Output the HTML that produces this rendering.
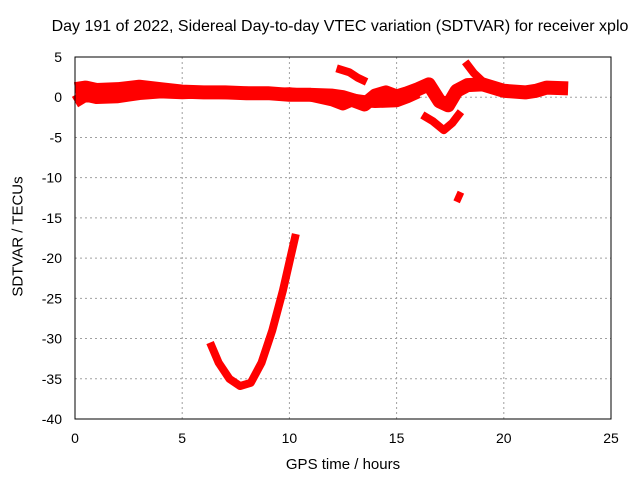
<!DOCTYPE html>
<html><head><meta charset="utf-8"><style>
body{margin:0;background:#fff}
svg{display:block;font-family:"Liberation Sans",sans-serif}
</style></head><body>
<svg id="c" width="640" height="480"></svg>
<script>
const xTicks=[0,5,10,15,20,25];
const yTicks=[5,0,-5,-10,-15,-20,-25,-30,-35,-40];
const bandUpper=[[0,1],[0.5,1.2],[1,0.9],[2,1],[3,1.3],[4,1],[5,0.7],[6,0.6],[7,0.6],[8,0.5],[9,0.5],[10,0.3],[11,0.3],[12,0.2],[12.5,0],[13,-0.4],[13.5,-0.9],[14,0.2],[14.5,0.6],[15,0.1],[15.5,0.5],[16,1],[16.5,1.6],[17,-0.5],[17.4,-1],[17.8,0.8],[18.3,1.5],[19,1.6],[20,0.8],[21,0.6],[21.5,0.8],[22,1.2],[23,1.1]];
const bandLower=[[0,-0.6],[0.5,0.2],[1,-0.1],[2,0],[3,0.4],[4,0.6],[5,0.5],[6,0.6],[7,0.5],[8,0.6],[9,0.4],[10,0.5],[11,0.2],[12,-0.4],[12.5,-0.9],[13,-0.3],[13.5,-0.5],[14,-0.6],[15,-0.5],[15.5,0],[16,0.6]];
const segHigh=[[12.2,3.6],[12.8,3.1],[13.2,2.4],[13.6,1.9]];
const segDip=[[16.2,-2.2],[16.7,-3],[17.2,-4.1],[17.6,-3.2],[18,-1.8]];
const segSpike=[[18.2,4.4],[18.6,3],[19,2],[19.4,1.2]];
const segDeep=[[17.8,-13],[18,-11.8]];
const segCurve=[[6.3,-30.5],[6.7,-33],[7.2,-35],[7.7,-35.9],[8.2,-35.5],[8.7,-33],[9.2,-29],[9.7,-24],[10.3,-17]];
const X0=75,X1=611,Y0=57,Y1=419;
const sx=h=>X0+(h-0)/25*(X1-X0);
const sy=v=>Y0+(5-v)/45*(Y1-Y0);
const svg=document.getElementById('c');
const NS='http://www.w3.org/2000/svg';
function mk(t,a){const e=document.createElementNS(NS,t);for(const k in a)e.setAttribute(k,a[k]);svg.appendChild(e);return e;}
xTicks.forEach(t=>{
 const l=mk('line',{x1:sx(t),x2:sx(t),y1:Y0,y2:Y1,stroke:'#a0a0a0','stroke-dasharray':'2,3'});
 
 
 const tx=mk('text',{x:sx(t),y:443,'text-anchor':'middle','font-size':14});tx.textContent=t;
 
 
});
yTicks.forEach(t=>{
 const l=mk('line',{x1:X0,x2:X1,y1:sy(t),y2:sy(t),stroke:'#a0a0a0','stroke-dasharray':'2,3'});
 
 
 const tx=mk('text',{x:62,y:sy(t)+5,'text-anchor':'end','font-size':14});tx.textContent=t;
 
 
});
function series(d,w,name){
 const p=mk('polyline',{points:d.map(q=>sx(q[0])+','+sy(q[1])).join(' '),fill:'none',stroke:'#ff0000','stroke-width':w,'stroke-linejoin':'round','stroke-linecap':'butt'});
 
 
}
series(bandUpper,14,'series-band-upper');
series(bandLower,12,'series-band-lower');
series(segHigh,8,'series-segment-high');
series(segDip,8,'series-segment-dip');
series(segSpike,8,'series-segment-spike');
series(segDeep,7,'series-segment-deep');
series(segCurve,8,'series-segment-curve');
const f=mk('rect',{x:X0,y:Y0,width:X1-X0,height:Y1-Y0,fill:'none',stroke:'#000','stroke-width':1});


</script>
<div style="position:absolute;left:0;top:0;width:640px;height:480px;pointer-events:none;font-family:'Liberation Sans',sans-serif">
<div style="position:absolute;left:0;width:680px;top:18px;text-align:center;font-size:16px;white-space:nowrap">Day 191 of 2022, Sidereal Day-to-day VTEC variation (SDTVAR) for receiver xplo</div>
<div style="position:absolute;left:75px;width:536px;top:456px;text-align:center;font-size:15px">GPS time / hours</div>
<div style="position:absolute;left:-82px;top:228px;width:200px;text-align:center;font-size:15px;transform:rotate(-90deg)">SDTVAR / TECUs</div>
</div>
</body></html>
